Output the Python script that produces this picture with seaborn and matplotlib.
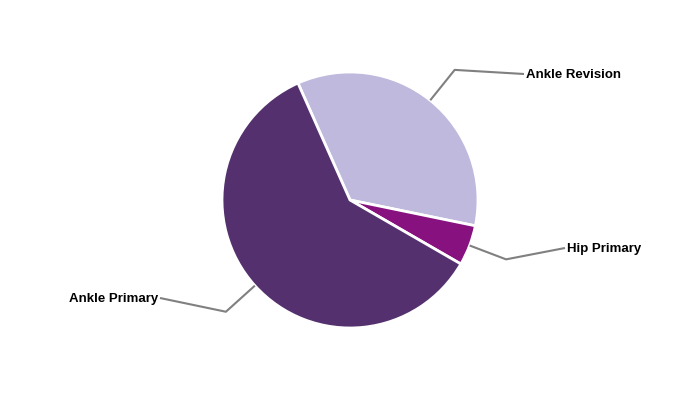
import numpy as np
import matplotlib.pyplot as plt
import seaborn as sns

sns.set_theme(style="white")
plt.rcParams['font.family'] = ['Liberation Sans', 'DejaVu Sans']

# ========== data ==========
categories = ['Ankle Revision', 'Hip Primary', 'Ankle Primary']
shares = [34.9, 5.1, 60.0]
colors = ['#BFB9DD', '#87117F', '#54316E']

# label anchor points (pixel coords, y from top) and alignment
label_pos = [(524, 74), (565, 248), (160, 298)]
label_ha = ['left', 'left', 'right']

W, H = 700, 400
cx, cy, R = 350, 200, 128

fig = plt.figure(figsize=(7, 4), dpi=100)
ax = fig.add_axes([0, 0, 1, 1])
ax.set_xlim(0, W)
ax.set_ylim(0, H)
ax.set_aspect('equal')
ax.axis('off')

wedges, _ = ax.pie(shares, colors=colors, startangle=114, counterclock=False,
                   center=(cx, H - cy), radius=R,
                   wedgeprops=dict(edgecolor='white', linewidth=2))
ax.set_xlim(0, W)
ax.set_ylim(0, H)

# leader lines
for w, name, (lx, ly), ha in zip(wedges, categories, label_pos, label_ha):
    mid = np.deg2rad((w.theta1 + w.theta2) / 2)
    x0, y0 = cx + R * np.cos(mid), (H - cy) + R * np.sin(mid)
    x1, y1 = cx + 167 * np.cos(mid), (H - cy) + 167 * np.sin(mid)
    ax.plot([x0, x1, lx], [y0, y1, H - ly], color='#808080', lw=1.5,
            solid_capstyle='butt', zorder=3)
    off = 2 if ha == 'left' else -2
    ax.text(lx + off, H - ly - 1, name, ha=ha, va='center', fontsize=9.5,
            fontweight='bold', color='black')

plt.savefig('out.png', dpi=100)
plt.close()
